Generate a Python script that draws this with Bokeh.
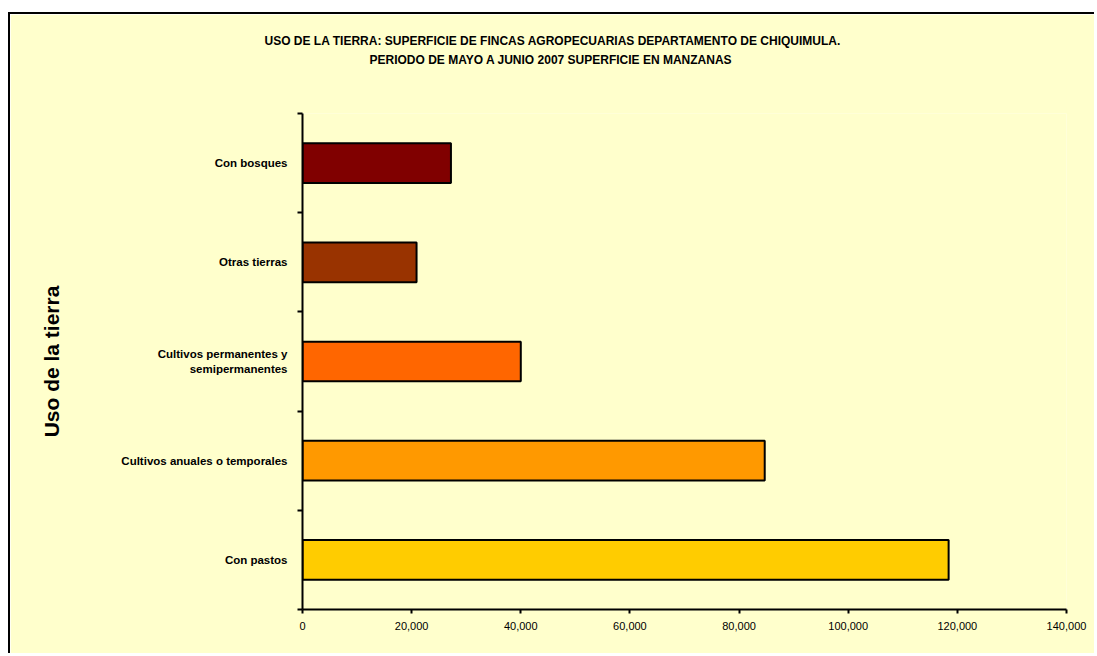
from bokeh.plotting import figure
from bokeh.models import Range1d, FixedTicker, NumeralTickFormatter, Title, ColumnDataSource
from bokeh.embed import file_html
from bokeh.resources import INLINE

# ---- data (bottom to top) ----
categories = [
    "Con pastos",
    "Cultivos anuales o temporales",
    "Cultivos permanentes y\nsemipermanentes",
    "Otras tierras",
    "Con bosques",
]
values = [118400, 84700, 40000, 20900, 27200]
colors = ["#FFCC00", "#FF9900", "#FF6600", "#993300", "#800000"]
x_ticks = [0, 20000, 40000, 60000, 80000, 100000, 120000, 140000]

title_line1 = "USO DE LA TIERRA: SUPERFICIE DE FINCAS AGROPECUARIAS DEPARTAMENTO DE CHIQUIMULA."
title_line2 = "PERIODO DE MAYO A JUNIO 2007 SUPERFICIE EN MANZANAS"
y_label = "Uso de la tierra"

FONT = "Liberation Sans"
BG = "#FFFFCC"

n = len(categories)
centers = [i + 0.5 for i in range(n)]
bounds = [i for i in range(n + 1)]

p = figure(
    width=1086, height=641,
    x_range=Range1d(0, x_ticks[-1]), y_range=Range1d(0, n),
    output_backend="svg", toolbar_location=None,
    title=None,
    min_border_left=292, min_border_right=30, min_border_top=99, min_border_bottom=46,
    background_fill_color=BG, border_fill_color=BG, outline_line_color=None,
)
p.styles = {"margin-left": "8px", "margin-top": "12px",
            "border-top": "2px solid black", "border-left": "2px solid black"}

src = ColumnDataSource(dict(y=centers, right=values, color=colors))
p.hbar(y="y", left=0, right="right", height=0.4, source=src,
       fill_color="color", line_color="black", line_width=2)

# titles (first added = closest to the plot area)
spacer = Title(text=" ", text_font=FONT, text_font_size="40px", standoff=0, text_color=BG)
p.add_layout(spacer, "above")
t2 = Title(text=title_line2, text_font=FONT, text_font_size="12px", text_font_style="bold",
           text_color="black", align="left", offset=67, standoff=2)
p.add_layout(t2, "above")
t1 = Title(text=title_line1, text_font=FONT, text_font_size="12px", text_font_style="bold",
           text_color="black", align="left", offset=-38, standoff=4)
p.add_layout(t1, "above")

p.grid.visible = False

# y axis
ya = p.yaxis[0]
ya.ticker = FixedTicker(ticks=centers, minor_ticks=bounds)
ya.major_label_overrides = {c: lab for c, lab in zip(centers, categories)}
ya.major_tick_line_color = None
ya.major_tick_out = 5
ya.minor_tick_out = 5
ya.minor_tick_in = 0
ya.minor_tick_line_color = "black"
ya.minor_tick_line_width = 2
ya.axis_line_color = "black"
ya.axis_line_width = 2
ya.major_label_standoff = 10
ya.major_label_text_font = FONT
ya.major_label_text_font_size = "11.5px"
ya.major_label_text_font_style = "bold"
ya.major_label_text_color = "black"
ya.axis_label = y_label
ya.axis_label_text_font = FONT
ya.axis_label_text_font_size = "21px"
ya.axis_label_text_font_style = "bold"
ya.axis_label_text_color = "black"
ya.axis_label_standoff = 55

# x axis
xa = p.xaxis[0]
xa.ticker = FixedTicker(ticks=x_ticks)
xa.formatter = NumeralTickFormatter(format="0,0")
xa.minor_tick_line_color = None
xa.major_tick_out = 4
xa.major_tick_in = 0
xa.major_tick_line_width = 2
xa.major_tick_line_color = "black"
xa.axis_line_color = "black"
xa.axis_line_width = 2
xa.major_label_standoff = 8
xa.major_label_text_font = FONT
xa.major_label_text_font_size = "11px"
xa.major_label_text_color = "black"

open("out.html", "w").write(file_html(p, INLINE))
